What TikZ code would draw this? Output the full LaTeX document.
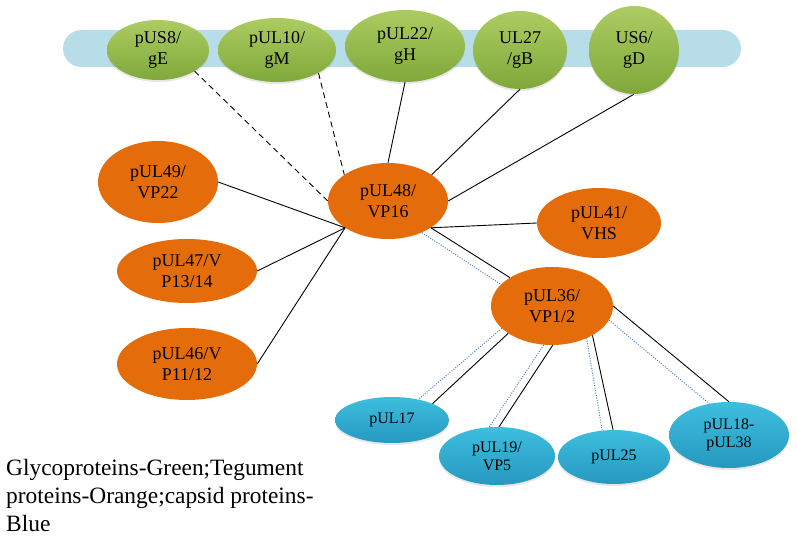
\documentclass[tikz,border=0pt]{standalone}
\usepackage{fontspec}
\setmainfont{Liberation Serif}
\usetikzlibrary{shapes.geometric,shadows}

\definecolor{barblue}{RGB}{183,221,232}
\definecolor{glytop}{RGB}{172,204,98}
\definecolor{glybot}{RGB}{128,168,58}
\definecolor{tegorange}{RGB}{228,108,10}
\definecolor{captop}{RGB}{62,190,222}
\definecolor{capbot}{RGB}{38,152,192}
\definecolor{dotblue}{RGB}{79,129,189}

\begin{document}
\begin{tikzpicture}[x=1pt,y=-1pt,
                prot/.style={ellipse,inner sep=0pt,align=center,text=black},
                dims/.style 2 args={minimum width=#1pt,minimum height=#2pt},
                glyco/.style={prot,top color=glytop,bottom color=glybot,
                    drop shadow={opacity=0.2,shadow xshift=0pt,shadow yshift=-2pt},
                    font=\fontsize{18}{21}\selectfont},
                tegu/.style={prot,fill=tegorange,font=\fontsize{18}{21}\selectfont},
                capsid/.style={prot,top color=captop,bottom color=capbot,
                    drop shadow={opacity=0.2,shadow xshift=0pt,shadow yshift=-2pt},
                    font=\fontsize{16}{18}\selectfont},
                link/.style={draw=black,line width=0.9pt},
                weak/.style={link,dash pattern=on 6pt off 4pt},
                capline/.style={draw=dotblue,line width=1pt,dash pattern=on 1pt off 1.5pt}]
                \useasboundingbox (0,0) rectangle (797,537);
                \fill[barblue,rounded corners=18.5pt] (63,30) rectangle (741,67);
                \node[glyco,dims={102}{60}] (gE) at (158,50) {pUS8/\\gE};
                \node[glyco,dims={118}{64}] (gM) at (277,50) {pUL10/\\gM};
                \node[glyco,dims={120}{72}] (gH) at (405,46) {pUL22/\\gH};
                \node[glyco,dims={94}{78}] (gB) at (520,50) {UL27\\/gB};
                \node[glyco,dims={90}{88}] (gD) at (634,50) {US6/\\gD};
                \node[tegu,dims={120}{76}] (VP16) at (388,201) {pUL48/\\VP16};
                \node[tegu,dims={124}{70}] (VHS) at (599,223) {pUL41/\\VHS};
                \node[tegu,dims={122}{78}] (VP12) at (552,306) {pUL36/\\VP1/2};
                \node[tegu,dims={120}{82}] (VP22) at (158,182) {pUL49/\\VP22};
                \node[tegu,dims={140}{64}] (VP13) at (187,271) {pUL47/V\\P13/14};
                \node[tegu,dims={140}{72}] (VP11) at (187,364) {pUL46/V\\P11/12};
                \node[capsid,dims={114}{46}] (UL17) at (392,420) {pUL17};
                \node[capsid,dims={116}{58}] (VP5) at (497,456) {pUL19/\\VP5};
                \node[capsid,dims={112}{54}] (UL25) at (614,457) {pUL25};
                \node[capsid,dims={120}{66}] (UL18) at (729,435) {pUL18-\\pUL38};
                \draw[weak] (gE.-30) -- (VP16.west);
                \draw[weak] (gM.-29) -- (VP16.149);
                \draw[link] (gH.south) -- (VP16.north);
                \draw[link] (gB.south) -- (VP16.31);
                \draw[link] (gD.south) -- (VP16.east);
                \draw[link] (VP22.east) -- (VP16.212);
                \draw[link] (VP13.east) -- (VP16.212);
                \draw[link] (VP11.east) -- (VP16.212);
                \draw[link] (VP16.-32) -- (VHS.west);
                \draw[link] (VP16.-32) -- (VP12.146);
                \draw[capline] (VP16.-43) -- (VP12.157);
                \draw[link] (VP12.212) -- (UL17.22);
                \draw[capline] (VP12.204) -- (UL17.38);
                \draw[link] (VP12.271) -- (VP5.86);
                \draw[capline] (VP12.258) -- (VP5.105);
                \draw[link] (VP12.324) -- (UL25.92);
                \draw[capline] (VP12.317) -- (UL25.114);
                \draw[link] (VP12.east) -- (UL18.north);
                \draw[capline] (VP12.-14) -- (UL18.122);
                \node[align=left,inner sep=0pt,anchor=north west,font=\fontsize{23.4}{28}\selectfont] (key) at (6,459)
                    {Glycoproteins-Green;Tegument\\proteins-Orange;capsid proteins-\\Blue};
            \end{tikzpicture}
\end{document}
